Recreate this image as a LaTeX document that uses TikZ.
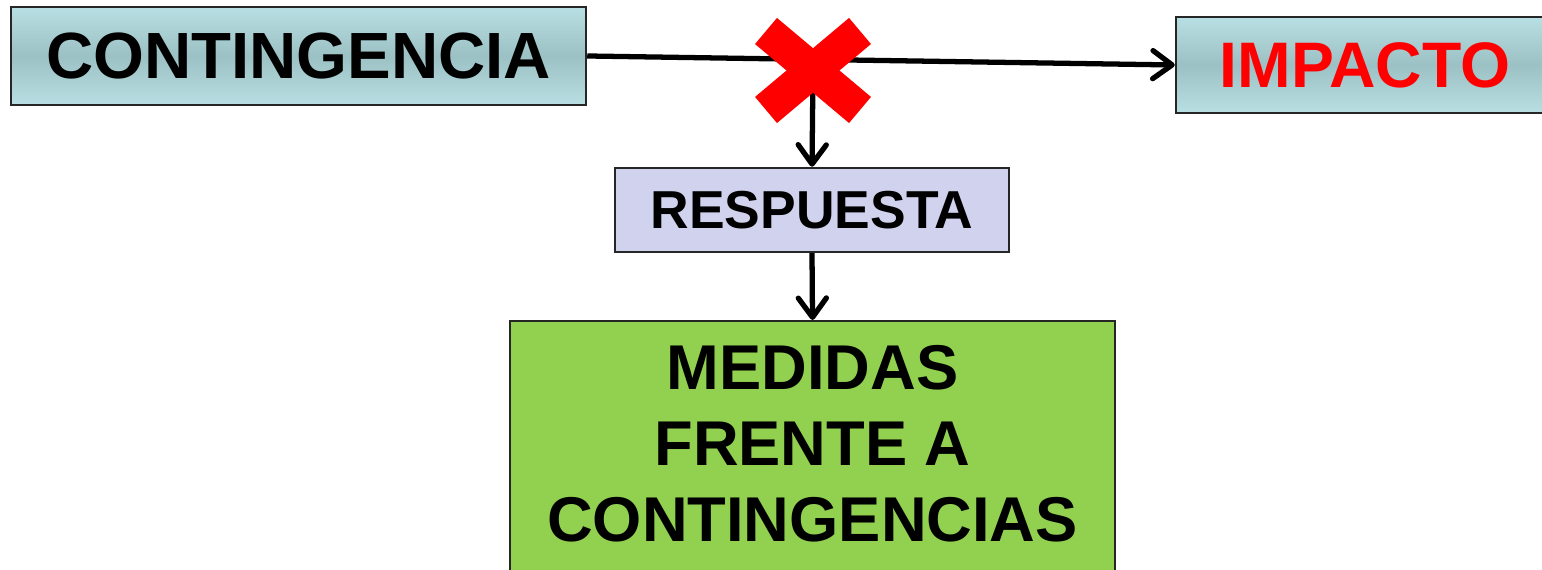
\documentclass[tikz,border=0pt]{standalone}
\usepackage{fontspec}
\setmainfont{Liberation Sans}
\usetikzlibrary{arrows.meta}

\definecolor{azulclaro}{RGB}{184,223,227}
\definecolor{azuloscuro}{RGB}{156,193,196}
\definecolor{lila}{RGB}{208,210,238}
\definecolor{verde}{RGB}{146,208,80}

\begin{document}
\begin{tikzpicture}[-{Straight Barb[length=5.5pt,width=8pt,line cap=round,line join=round]},
    line width=1.5pt,
    every node/.style = {shape=rectangle, draw=black!85, line width=0.7pt,
    align=center, inner sep=0pt, font=\bfseries},
    cblue/.style={top color=azulclaro, bottom color=azulclaro, middle color=azuloscuro},
    clila/.style={fill=lila},
    cgreen/.style={fill=verde},
    cruz/.style={-, draw=red, line width=9.7pt}]
    \useasboundingbox (0,0) rectangle (15.42,-5.70);
    \node[cblue, minimum width=5.75cm, minimum height=0.98cm,
        font=\bfseries\fontsize{18.6}{22}\selectfont] (contingencia) at (2.985,-0.56) {CONTINGENCIA};
    \node[cblue, minimum width=3.78cm, minimum height=0.96cm, text=red,
        font=\bfseries\fontsize{18.3}{22}\selectfont] (impacto) at (13.65,-0.65) {IMPACTO};
    \node[clila, minimum width=3.94cm, minimum height=0.84cm,
        font=\bfseries\fontsize{15.2}{18}\selectfont] (respuesta) at (8.12,-2.10) {RESPUESTA};
    \node[cgreen, anchor=north, minimum width=6.05cm, inner ysep=7pt, text depth=20pt,
        font=\bfseries\fontsize{18}{21.6}\selectfont] (medidas) at (8.125,-3.20)
        {MEDIDAS\\FRENTE A\\CONTINGENCIAS};
    \coordinate (corte) at (8.13,-0.705);
    \draw (contingencia.east) -- (impacto.west);
    \draw (corte) -- (respuesta.north);
    \draw (respuesta.south) -- (medidas.north);
    % la cruz roja
    \draw[cruz] (corte) ++(-0.47,0.395) -- ++(0.94,-0.79);
    \draw[cruz] (corte) ++(0.47,0.395) -- ++(-0.94,-0.79);
\end{tikzpicture}
\end{document}
